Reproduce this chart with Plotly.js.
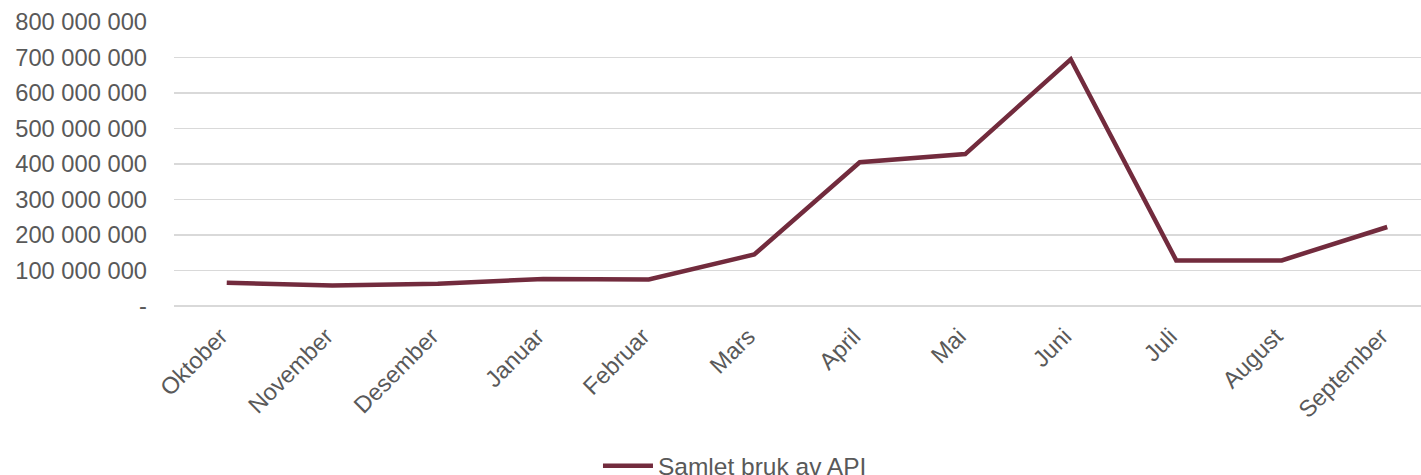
<!DOCTYPE html>
<html>
<head>
<meta charset="utf-8">
<script src="https://cdn.plot.ly/plotly-3.0.1.min.js"></script>
<style>html,body{margin:0;padding:0;background:#fff;overflow:hidden;}#chart{width:1421px;height:490px;}</style>
</head>
<body>
<div id="chart"></div>
<script>
const months = ["Oktober","November","Desember","Januar","Februar","Mars","April","Mai","Juni","Juli","August","September"];
const apiUsage = [65500000, 58000000, 63000000, 76000000, 75000000, 145000000, 405000000, 428000000, 695000000, 128500000, 128500000, 222500000];
const seriesName = "Samlet bruk av API";
const yTickVals = [0, 100000000, 200000000, 300000000, 400000000, 500000000, 600000000, 700000000, 800000000];
const yTickText = ["-", "100 000 000", "200 000 000", "300 000 000", "400 000 000", "500 000 000", "600 000 000", "700 000 000", "800 000 000"];

const trace = {
  x: months,
  y: apiUsage,
  type: 'scatter',
  mode: 'lines',
  name: seriesName,
  line: {color: '#722b3d', width: 4.5},
  showlegend: true
};

const layout = {
  width: 1421,
  height: 490,
  margin: {l: 174, r: 0, t: 22, b: 184, pad: 0},
  paper_bgcolor: '#ffffff',
  plot_bgcolor: '#ffffff',
  font: {family: '"Liberation Sans", Arial, sans-serif', color: '#595959', size: 22},
  showlegend: true,
  legend: {
    orientation: 'h',
    x: 0.34, xanchor: 'left',
    y: -0.563, yanchor: 'middle',
    itemwidth: 50,
    font: {size: 24.5, color: '#595959'},
    bgcolor: 'rgba(0,0,0,0)'
  },
  xaxis: {
    type: 'category',
    range: [-0.5, 11.32],
    tickangle: -45,
    showgrid: false,
    zeroline: false,
    showline: false,
    ticks: '',
    ticklabelstandoff: 11,
    ticklabelshift: -6,
    tickfont: {size: 23.5, color: '#595959'},
    automargin: false
  },
  yaxis: {
    range: [0, 800000000],
    tickvals: yTickVals,
    ticktext: yTickText,
    showgrid: true,
    gridcolor: '#d9d9d9',
    gridwidth: 1.3,
    zeroline: true,
    zerolinecolor: '#d9d9d9',
    zerolinewidth: 1.3,
    showline: false,
    ticks: '',
    ticklabelstandoff: 26,
    tickfont: {size: 23.7, color: '#595959'},
    automargin: false
  }
};

Plotly.newPlot('chart', [trace], layout, {displayModeBar: false, staticPlot: true});
</script>
</body>
</html>
